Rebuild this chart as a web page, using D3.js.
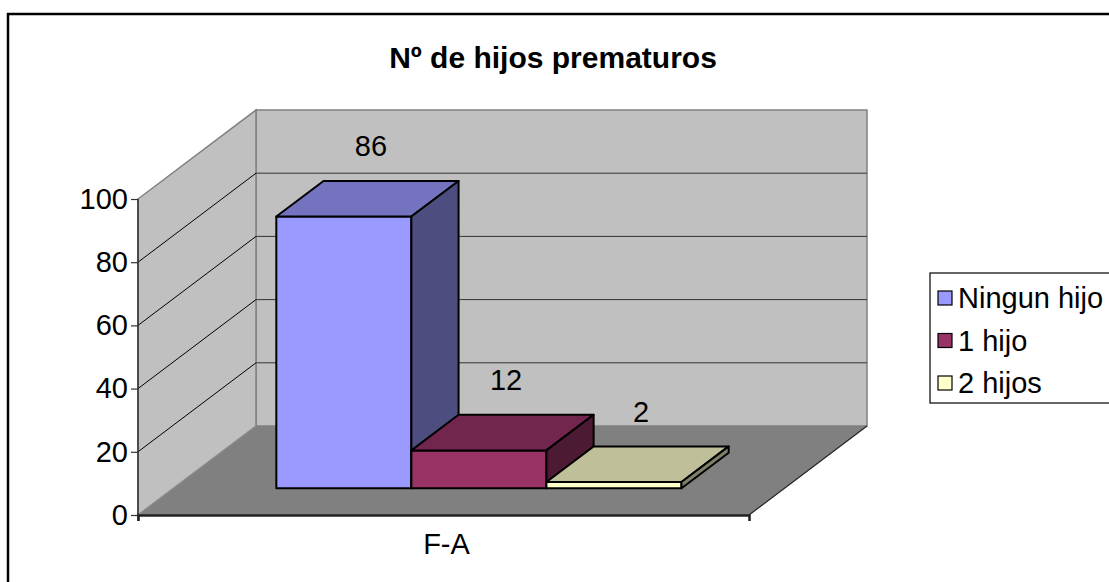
<!DOCTYPE html>
<html>
<head>
<meta charset="utf-8">
<script src="https://cdn.jsdelivr.net/npm/d3@7"></script>
<style>
    body { margin: 0; background: #fff; }
    text { font-family: "Liberation Sans", Arial, sans-serif; fill: #000; }
</style>
</head>
<body>
<div id="chart"></div>
<script>
// Data
var categories = ["F-A"];
var series     = ["Ningun hijo", "1 hijo", "2 hijos"];
var values     = [86, 12, 2];
var y_ticks    = [0, 20, 40, 60, 80, 100];
var title_text = "Nº de hijos prematuros";

// Excel-like 3d palette: front, top, side
var front_colors = ["#9999ff", "#993366", "#ffffcc"];
var top_colors   = ["#7373bf", "#73264d", "#bfbf99"];
var side_colors  = ["#4d4d80", "#4d1a33", "#80806a"];

var width = 1109, height = 582;
var font_size = 29;

var svg = d3.select("#chart").append("svg")
    .attr("width", width)
    .attr("height", height);

// chart frame (runs off the right and bottom of the picture)
svg.append("rect")
    .attr("x", 8).attr("y", 14)
    .attr("width", width + 20).attr("height", height + 20)
    .attr("fill", "#fff")
    .attr("stroke", "#000")
    .attr("stroke-width", 2.5);

// front plane of the plot, plus depth offset
var plot = {left: 138, right: 749, top: 199, bottom: 515};
var depth = {dx: 118, dy: 89};
var bar_z = [0.3, 0.7];

var y_scale = d3.scaleLinear()
    .domain([0, 100])
    .range([plot.bottom, plot.top]);

var x0 = d3.scaleBand()
    .domain(categories)
    .range([plot.left, plot.right])
    .paddingInner(0)
    .paddingOuter(0.254);

var x1 = d3.scaleBand()
    .domain(series)
    .range([0, x0.bandwidth()]);

// project a point (front-plane x, value, depth 0..1) onto the screen
function P(x, v, z) {
    return [x + z * depth.dx, y_scale(v) - z * depth.dy];
}
function poly(pts) {
    return "M" + pts.map(function(p) { return p[0] + "," + p[1]; }).join("L") + "Z";
}

var g = svg.append("g");

// walls and floor
g.append("path")
    .attr("d", poly([P(plot.left, 0, 1), P(plot.right, 0, 1), P(plot.right, 100, 1), P(plot.left, 100, 1)]))
    .attr("fill", "#c0c0c0").attr("stroke", "#808080").attr("stroke-width", 1.5);
g.append("path")
    .attr("d", poly([P(plot.left, 0, 0), P(plot.left, 0, 1), P(plot.left, 100, 1), P(plot.left, 100, 0)]))
    .attr("fill", "#c0c0c0").attr("stroke", "#808080").attr("stroke-width", 1.5);
g.append("path")
    .attr("d", poly([P(plot.left, 0, 0), P(plot.right, 0, 0), P(plot.right, 0, 1), P(plot.left, 0, 1)]))
    .attr("fill", "#808080").attr("stroke", "none");

// gridlines on back and side walls
var grid_vals = y_ticks.filter(function(d) { return d > 0 && d < 100; });
g.selectAll(".grid-back").data(grid_vals).enter().append("line")
    .attr("x1", function(d) { return P(plot.left, d, 1)[0]; })
    .attr("y1", function(d) { return P(plot.left, d, 1)[1]; })
    .attr("x2", function(d) { return P(plot.right, d, 1)[0]; })
    .attr("y2", function(d) { return P(plot.right, d, 1)[1]; })
    .attr("stroke", "#333").attr("stroke-width", 1);
g.selectAll(".grid-side").data(grid_vals).enter().append("line")
    .attr("x1", function(d) { return P(plot.left, d, 0)[0]; })
    .attr("y1", function(d) { return P(plot.left, d, 0)[1]; })
    .attr("x2", function(d) { return P(plot.left, d, 1)[0]; })
    .attr("y2", function(d) { return P(plot.left, d, 1)[1]; })
    .attr("stroke", "#000").attr("stroke-width", 1);

// floor edges
g.append("line")
    .attr("x1", P(plot.right, 0, 0)[0]).attr("y1", P(plot.right, 0, 0)[1])
    .attr("x2", P(plot.right, 0, 1)[0]).attr("y2", P(plot.right, 0, 1)[1])
    .attr("stroke", "#222").attr("stroke-width", 1.2);
g.append("line")
    .attr("x1", P(plot.left, 0, 0)[0]).attr("y1", P(plot.left, 0, 0)[1])
    .attr("x2", P(plot.left, 0, 1)[0]).attr("y2", P(plot.left, 0, 1)[1])
    .attr("stroke", "#909090").attr("stroke-width", 1);

// axes
var y_axis = d3.axisLeft(y_scale)
    .tickValues(y_ticks)
    .tickSize(7)
    .tickPadding(3);
var ya = svg.append("g")
    .attr("transform", "translate(" + plot.left + ",0)")
    .call(y_axis);
ya.select(".domain").attr("stroke", "#333").attr("stroke-width", 1.5)
    .attr("d", "M0," + y_scale(100) + "V" + (plot.bottom + 6));
ya.selectAll(".tick line").attr("stroke", "#333").attr("stroke-width", 1.2);
ya.selectAll(".tick text")
    .style("font-family", "'Liberation Sans', Arial, sans-serif")
    .style("font-size", font_size + "px")
    .attr("fill", "#000");

var x_axis = d3.axisBottom(d3.scaleLinear().domain([0, 1]).range([plot.left, plot.right]))
    .tickValues([0, 1])
    .tickSize(6)
    .tickFormat("");
var xa = svg.append("g")
    .attr("transform", "translate(0," + plot.bottom + ")")
    .call(x_axis);
xa.select(".domain").attr("stroke", "#222").attr("stroke-width", 2.5);
xa.selectAll(".tick line").attr("stroke", "#222").attr("stroke-width", 1.2);

svg.selectAll(".cat-label").data(categories).enter().append("text")
    .attr("x", function(d) { return x0(d) + x0.bandwidth() / 2 + 3; })
    .attr("y", plot.bottom + 39)
    .attr("text-anchor", "middle")
    .style("font-size", font_size + "px")
    .text(function(d) { return d; });

// bars, left to right so each covers the previous side face
var bars = g.selectAll(".bar").data(series).enter().append("g").attr("class", "bar");
bars.each(function(s, i) {
    var b = d3.select(this);
    var xa0 = x0(categories[0]) + x1(s);
    var xa1 = xa0 + x1.bandwidth();
    var v = values[i];
    var zf = bar_z[0], zb = bar_z[1];
    b.append("path")
        .attr("d", poly([P(xa0, 0, zf), P(xa1, 0, zf), P(xa1, v, zf), P(xa0, v, zf)]))
        .attr("fill", front_colors[i]);
    b.append("path")
        .attr("d", poly([P(xa0, v, zf), P(xa1, v, zf), P(xa1, v, zb), P(xa0, v, zb)]))
        .attr("fill", top_colors[i]);
    b.append("path")
        .attr("d", poly([P(xa1, 0, zf), P(xa1, 0, zb), P(xa1, v, zb), P(xa1, v, zf)]))
        .attr("fill", side_colors[i]);
    b.selectAll("path")
        .attr("stroke", "#000")
        .attr("stroke-width", 2)
        .attr("stroke-linejoin", "round");
});

// value labels
svg.selectAll(".val").data(series).enter().append("text")
    .attr("x", function(s) { return P(x0(categories[0]) + x1(s) + x1.bandwidth() / 2, 0, 0.53)[0]; })
    .attr("y", function(s, i) { return P(0, values[i], 1)[1] - 8; })
    .attr("text-anchor", "middle")
    .attr("dy", "0.35em")
    .style("font-size", font_size + "px")
    .text(function(s, i) { return values[i]; });

// title
svg.append("text")
    .attr("x", 553)
    .attr("y", 68)
    .attr("text-anchor", "middle")
    .style("font-size", "30px")
    .style("font-weight", "bold")
    .text(title_text);

// legend
var legend = svg.append("g").attr("transform", "translate(930,273)");
legend.append("rect")
    .attr("width", 200).attr("height", 130)
    .attr("fill", "#fff").attr("stroke", "#000").attr("stroke-width", 1.2);
var items = legend.selectAll(".item").data(series).enter().append("g")
    .attr("transform", function(d, i) { return "translate(8," + (25 + i * 42.5) + ")"; });
items.append("rect")
    .attr("y", -7).attr("width", 14).attr("height", 14)
    .attr("fill", function(d, i) { return front_colors[i]; })
    .attr("stroke", "#000").attr("stroke-width", 1.2);
items.append("text")
    .attr("x", 20).attr("dy", "0.35em")
    .style("font-size", "29px")
    .text(function(d) { return d; });
</script>
</body>
</html>
